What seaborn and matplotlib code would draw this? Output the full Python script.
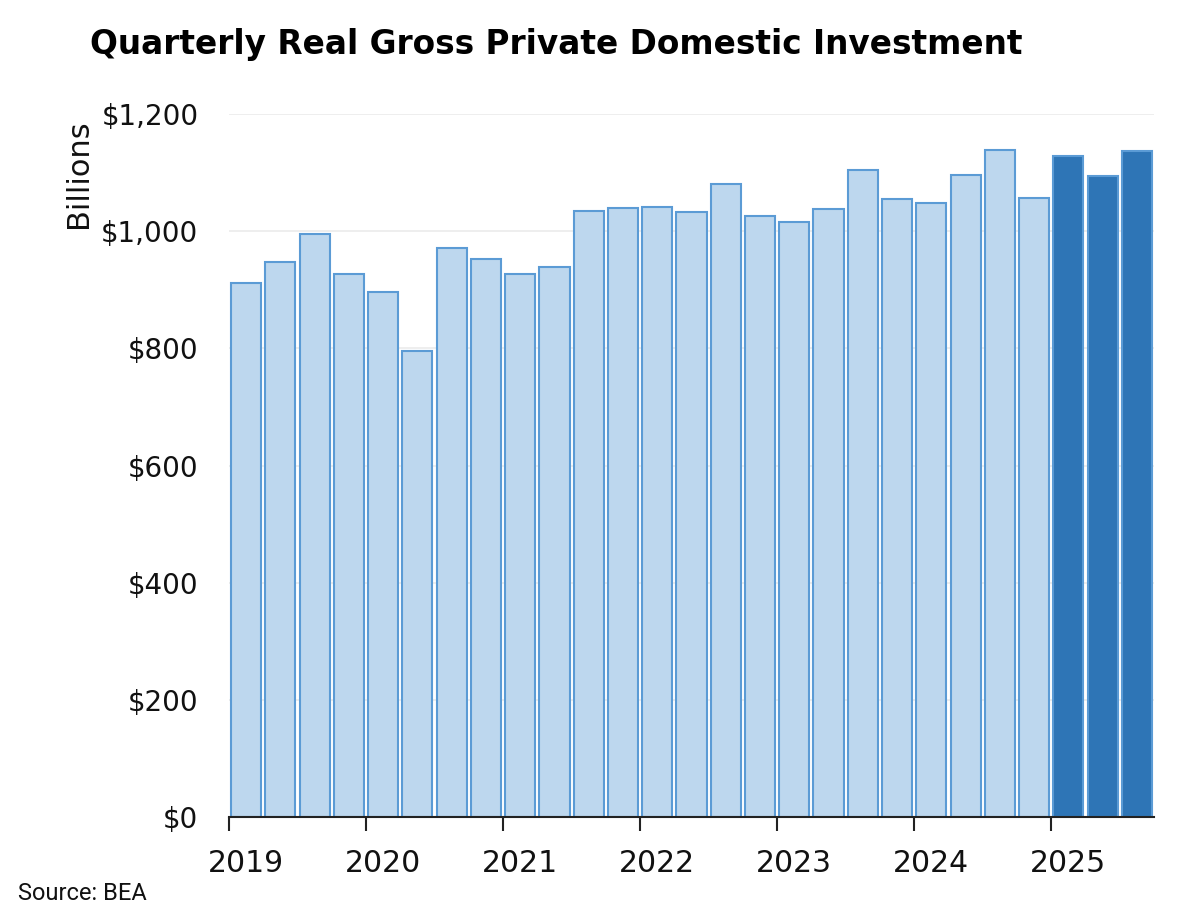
import pandas as pd
import numpy as np
import matplotlib
matplotlib.use('Agg')
import matplotlib.pyplot as plt
from matplotlib.ticker import FuncFormatter
import seaborn as sns

#data (billions, quarterly)
years = [2019, 2020, 2021, 2022, 2023, 2024, 2025]
quarters = ['2019Q1', '2019Q2', '2019Q3', '2019Q4',
            '2020Q1', '2020Q2', '2020Q3', '2020Q4',
            '2021Q1', '2021Q2', '2021Q3', '2021Q4',
            '2022Q1', '2022Q2', '2022Q3', '2022Q4',
            '2023Q1', '2023Q2', '2023Q3', '2023Q4',
            '2024Q1', '2024Q2', '2024Q3', '2024Q4',
            '2025Q1', '2025Q2', '2025Q3']
investment = [911, 947, 995, 927,
              896, 795, 971, 952,
              927, 939, 1034, 1040,
              1041, 1033, 1081, 1026,
              1016, 1038, 1104, 1055,
              1048, 1096, 1139, 1057,
              1128, 1094, 1137]

df = pd.DataFrame({'quarter': quarters, 'value': investment})
df['period'] = np.where(df['quarter'].str.startswith('2025'), 'current', 'past')

sns.set_style('white')
plt.rcParams['font.family'] = ['DejaVu Sans']

fig = plt.figure(figsize=(12, 9.15), dpi=100)
ax = fig.add_axes([0.1908, 0.1071, 0.9617 - 0.1908, 0.8754 - 0.1071])

sns.barplot(data=df, x='quarter', y='value', hue='period', dodge=False,
            palette={'past': '#BDD7EE', 'current': '#2E75B6'}, saturation=1,
            width=0.88, legend=False, ax=ax, zorder=2)
for p in ax.patches:
    p.set_edgecolor('#5B9BD5')
    p.set_linewidth(1.5)

#axes styling
ax.set_xlim(-0.5, len(quarters) - 0.5)
ax.set_ylim(0, 1200)
ax.set_yticks(range(0, 1201, 200))
ax.yaxis.set_major_formatter(FuncFormatter(lambda v, _: f'${v:,.0f}'))
ax.grid(axis='y', color='#ebebeb', linewidth=1.2, zorder=0)
ax.set_axisbelow(True)
for s in ['top', 'right', 'left']:
    ax.spines[s].set_visible(False)
ax.spines['bottom'].set_color('#222222')
ax.spines['bottom'].set_linewidth(1.5)

#year boundaries as ticks, labels under first quarter
ax.set_xticks([i * 4 - 0.5 for i in range(len(years))])
ax.set_xticklabels([])
ax.tick_params(axis='x', which='major', bottom=True, length=10, width=1.5, color='#222222', direction='out')
ax.set_xticks([i * 4 for i in range(len(years))], minor=True)
ax.set_xticklabels([str(y) for y in years], minor=True)
ax.tick_params(axis='x', which='minor', bottom=True, length=0, pad=23, labelsize=21.5, labelcolor='#111111')
ax.tick_params(axis='y', length=0, pad=22, labelsize=20, labelcolor='#111111')
ax.set_xlabel('')
ax.set_ylabel('')

fig.text(0.065, 0.81, 'Billions', rotation=90, ha='center', va='center', fontsize=22, color='#111111')
fig.text(0.075, 0.951, 'Quarterly Real Gross Private Domestic Investment', ha='left', va='center',
         fontsize=23.6, fontweight='bold', color='#000000')
fig.text(0.015, 0.024, 'Source: BEA', ha='left', va='center', fontsize=17, color='#111111',
         family=['Liberation Sans Narrow', 'Roboto', 'DejaVu Sans'])

fig.savefig('out.png', dpi=100)
